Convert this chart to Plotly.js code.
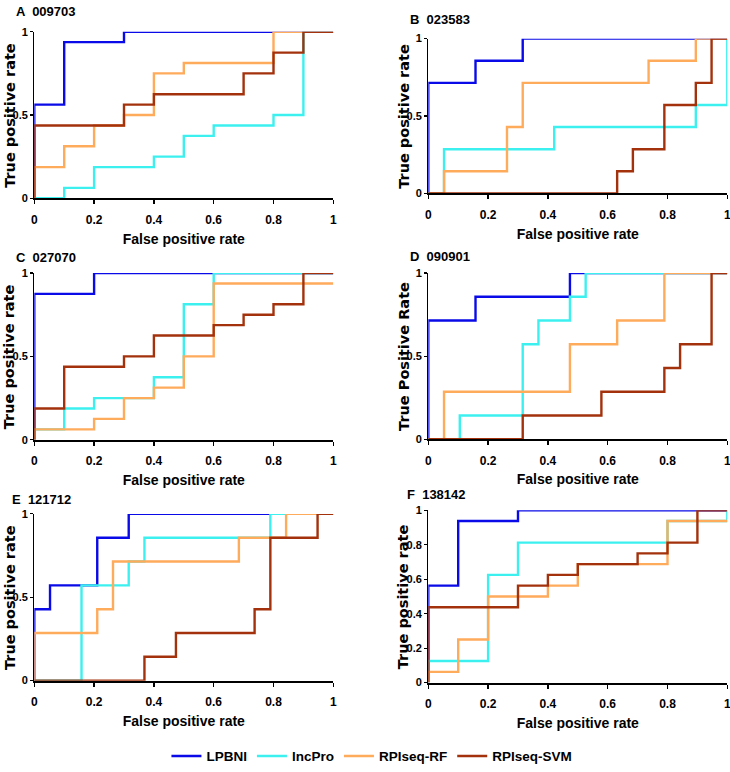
<!DOCTYPE html>
<html>
<head>
<meta charset="utf-8">
<script src="https://cdn.plot.ly/plotly-3.0.1.min.js"></script>
<style>html,body{margin:0;padding:0;background:#fff;}#chart{width:730px;height:772px;}</style>
</head>
<body>
<div id="chart"></div>
<script>
// ---------- DATA ----------
const seriesNames = ['LPBNI', 'lncPro', 'RPIseq-RF', 'RPIseq-SVM'];
const panelLetters = ['A', 'B', 'C', 'D', 'E', 'F'];
const panelIds = ['009703', '023583', '027070', '090901', '121712', '138142'];
const yTitles = ['True positive rate', 'True positive rate', 'True positive rate', 'True Positive Rate', 'True positive rate', 'True positive rate'];
const xTitle = 'False positive rate';
const xTickVals = [0, 0.2, 0.4, 0.6, 0.8, 1];
const xTickText = ['0', '0.2', '0.4', '0.6', '0.8', '1'];
const yTickValsHalf = [0, 0.5, 1];
const yTickTextHalf = ['0', '0.5', '1'];
const yTickValsFine = [0, 0.2, 0.4, 0.6, 0.8, 1];
const yTickTextFine = ['0', '0.2', '0.4', '0.6', '0.8', '1'];

// Panel A (009703)
const A_LPBNI_fpr = [0, 0, 0.1, 0.3, 1];
const A_LPBNI_tpr = [0, 0.5625, 0.9375, 1, 1];
const A_lncPro_fpr = [0, 0.1, 0.2, 0.4, 0.5, 0.6, 0.8, 0.9, 1];
const A_lncPro_tpr = [0, 0.0625, 0.1875, 0.25, 0.375, 0.4375, 0.5, 1, 1];
const A_RF_fpr = [0, 0, 0.1, 0.2, 0.3, 0.4, 0.5, 0.8, 1];
const A_RF_tpr = [0, 0.1875, 0.3125, 0.4375, 0.5, 0.75, 0.8125, 1, 1];
const A_SVM_fpr = [0, 0, 0.3, 0.4, 0.7, 0.8, 0.9, 1];
const A_SVM_tpr = [0, 0.4375, 0.5625, 0.625, 0.75, 0.875, 1, 1];

// Panel B (023583)
const B_LPBNI_fpr = [0, 0, 0.1579, 0.3158, 1];
const B_LPBNI_tpr = [0, 0.7143, 0.8571, 1, 1];
const B_lncPro_fpr = [0, 0.0526, 0.4211, 0.8947, 1];
const B_lncPro_tpr = [0, 0.2857, 0.4286, 0.5714, 1];
const B_RF_fpr = [0, 0.0526, 0.2632, 0.3158, 0.7368, 0.8947, 1];
const B_RF_tpr = [0, 0.1429, 0.4286, 0.7143, 0.8571, 1, 1];
const B_SVM_fpr = [0, 0.6316, 0.6842, 0.7895, 0.8947, 0.9474, 1];
const B_SVM_tpr = [0, 0.1429, 0.2857, 0.5714, 0.7143, 1, 1];

// Panel C (027070)
const C_LPBNI_fpr = [0, 0, 0.2, 1];
const C_LPBNI_tpr = [0, 0.875, 1, 1];
const C_lncPro_fpr = [0, 0, 0.1, 0.2, 0.4, 0.5, 0.6, 1];
const C_lncPro_tpr = [0, 0.0625, 0.1875, 0.25, 0.375, 0.8125, 1, 1];
const C_RF_fpr = [0, 0, 0.2, 0.3, 0.4, 0.5, 0.6, 1];
const C_RF_tpr = [0, 0.0625, 0.125, 0.25, 0.3125, 0.5, 0.9375, 0.9375];
const C_SVM_fpr = [0, 0, 0.1, 0.3, 0.4, 0.6, 0.7, 0.8, 0.9, 1];
const C_SVM_tpr = [0, 0.1875, 0.4375, 0.5, 0.625, 0.6875, 0.75, 0.8125, 1, 1];

// Panel D (090901)
const D_LPBNI_fpr = [0, 0, 0.1579, 0.4737, 1];
const D_LPBNI_tpr = [0, 0.7143, 0.8571, 1, 1];
const D_lncPro_fpr = [0, 0.1053, 0.3158, 0.3684, 0.4737, 0.5263, 1];
const D_lncPro_tpr = [0, 0.1429, 0.5714, 0.7143, 0.8571, 1, 1];
const D_RF_fpr = [0, 0.0526, 0.4737, 0.6316, 0.7895, 1];
const D_RF_tpr = [0, 0.2857, 0.5714, 0.7143, 1, 1];
const D_SVM_fpr = [0, 0.3158, 0.5789, 0.7895, 0.8421, 0.9474, 1];
const D_SVM_tpr = [0, 0.1429, 0.2857, 0.4286, 0.5714, 1, 1];

// Panel E (121712)
const E_LPBNI_fpr = [0, 0, 0.0526, 0.2105, 0.3158, 1];
const E_LPBNI_tpr = [0, 0.4286, 0.5714, 0.8571, 1, 1];
const E_lncPro_fpr = [0, 0.1579, 0.3158, 0.3684, 0.7895, 1];
const E_lncPro_tpr = [0, 0.5714, 0.7143, 0.8571, 1, 1];
const E_RF_fpr = [0, 0, 0.2105, 0.2632, 0.6842, 0.8421, 1];
const E_RF_tpr = [0, 0.2857, 0.4286, 0.7143, 0.8571, 1, 1];
const E_SVM_fpr = [0, 0.3684, 0.4737, 0.7368, 0.7895, 0.9474, 1];
const E_SVM_tpr = [0, 0.1429, 0.2857, 0.4286, 0.8571, 1, 1];

// Panel F (138142)
const F_LPBNI_fpr = [0, 0, 0.1, 0.3, 1];
const F_LPBNI_tpr = [0, 0.5625, 0.9375, 1, 1];
const F_lncPro_fpr = [0, 0, 0.2, 0.3, 0.8, 1];
const F_lncPro_tpr = [0, 0.125, 0.625, 0.8125, 0.9375, 1];
const F_RF_fpr = [0, 0, 0.1, 0.2, 0.4, 0.5, 0.8, 1];
const F_RF_tpr = [0, 0.0625, 0.25, 0.5, 0.5625, 0.6875, 0.9375, 0.9375];
const F_SVM_fpr = [0, 0, 0.3, 0.4, 0.5, 0.7, 0.8, 0.9, 1];
const F_SVM_tpr = [0, 0.4375, 0.5625, 0.625, 0.6875, 0.75, 0.8125, 1, 1];

// ---------- STYLE ----------
const colors = ['#0a0ae8', '#3cf0f0', '#ffab5c', '#a3320c'];
const narrow = '"Liberation Sans", Arial, sans-serif';
const wide = '"DejaVu Sans", Verdana, sans-serif';

const panelData = {
  A: [[A_LPBNI_fpr, A_LPBNI_tpr], [A_lncPro_fpr, A_lncPro_tpr], [A_RF_fpr, A_RF_tpr], [A_SVM_fpr, A_SVM_tpr]],
  B: [[B_LPBNI_fpr, B_LPBNI_tpr], [B_lncPro_fpr, B_lncPro_tpr], [B_RF_fpr, B_RF_tpr], [B_SVM_fpr, B_SVM_tpr]],
  C: [[C_LPBNI_fpr, C_LPBNI_tpr], [C_lncPro_fpr, C_lncPro_tpr], [C_RF_fpr, C_RF_tpr], [C_SVM_fpr, C_SVM_tpr]],
  D: [[D_LPBNI_fpr, D_LPBNI_tpr], [D_lncPro_fpr, D_lncPro_tpr], [D_RF_fpr, D_RF_tpr], [D_SVM_fpr, D_SVM_tpr]],
  E: [[E_LPBNI_fpr, E_LPBNI_tpr], [E_lncPro_fpr, E_lncPro_tpr], [E_RF_fpr, E_RF_tpr], [E_SVM_fpr, E_SVM_tpr]],
  F: [[F_LPBNI_fpr, F_LPBNI_tpr], [F_lncPro_fpr, F_lncPro_tpr], [F_RF_fpr, F_RF_tpr], [F_SVM_fpr, F_SVM_tpr]]
};

// pixel boxes of plot areas [left, right, top, bottom]
const W = 730, H = 772;
const boxes = [
  [34.3, 333.3, 32.3, 201.7],
  [428.3, 727.3, 39.3, 196.7],
  [34.3, 333.3, 277.7, 447.3],
  [428.3, 727.3, 277.7, 446.7],
  [34.3, 333.3, 522.7, 692.3],
  [428.3, 727.3, 519.0, 694.3]
];
const titlePos = [[14, 12], [408, 20], [14, 262], [408, 261], [10, 508], [405, 503]];

const traces = [];
const layout = {
  width: W, height: H,
  margin: {l: 0, r: 0, t: 0, b: 0},
  paper_bgcolor: '#fff', plot_bgcolor: '#fff',
  showlegend: true,
  legend: {
    orientation: 'h', x: 0.228, xanchor: 'left', y: 0.024, yanchor: 'top',
    font: {family: narrow, size: 13.5, color: '#000', weight: 'bold'},
    itemwidth: 30, tracegroupgap: 0, bgcolor: 'rgba(0,0,0,0)'
  },
  annotations: []
};

panelLetters.forEach((p, i) => {
  const n = i + 1;
  const xa = n === 1 ? 'x' : 'x' + n;
  const ya = n === 1 ? 'y' : 'y' + n;
  panelData[p].forEach((s, k) => {
    traces.push({
      type: 'scatter', mode: 'lines',
      x: s[0], y: s[1],
      xaxis: xa, yaxis: ya,
      name: seriesNames[k], legendgroup: seriesNames[k],
      showlegend: i === 0,
      line: {shape: 'hv', color: colors[k], width: 2.4},
      hoverinfo: 'skip'
    });
  });
  const b = boxes[i];
  const fine = p === 'F';
  layout['xaxis' + (n === 1 ? '' : n)] = {
    domain: [b[0] / W, b[1] / W], anchor: ya, range: [0, 1],
    showgrid: false, zeroline: false, showline: true, linecolor: '#000', linewidth: 2,
    ticks: 'outside', ticklen: 4, tickwidth: 1.5, tickcolor: '#000',
    ticklabelstandoff: 5, ticklabeloverflow: 'allow',
    tickvals: xTickVals, ticktext: xTickText,
    tickfont: {family: narrow, size: 12, color: '#000', weight: 'bold'},
    title: {text: xTitle, font: {family: narrow, size: 14, color: '#000', weight: 'bold'}, standoff: 8},
    fixedrange: true
  };
  layout['yaxis' + (n === 1 ? '' : n)] = {
    domain: [1 - b[3] / H, 1 - b[2] / H], anchor: xa, range: [0, 1],
    showgrid: false, zeroline: false, showline: true, linecolor: '#000', linewidth: 1.2,
    ticks: 'outside', ticklen: 3, tickwidth: 1.2, tickcolor: '#000',
    ticklabelstandoff: 0, ticklabeloverflow: 'allow',
    tickvals: fine ? yTickValsFine : yTickValsHalf,
    ticktext: fine ? yTickTextFine : yTickTextHalf,
    tickfont: {family: narrow, size: 11, color: '#000', weight: 'bold'},
    fixedrange: true
  };
  // y-axis title
  layout.annotations.push({
    xref: 'paper', yref: 'paper',
    x: (b[0] - 24.5) / W, y: 1 - (b[2] + b[3]) / 2 / H,
    xanchor: 'center', yanchor: 'middle', showarrow: false, textangle: -90,
    text: yTitles[i],
    font: {family: wide, size: 14.5, color: '#000', weight: 'bold'}
  });
  // panel label
  layout.annotations.push({
    xref: 'paper', yref: 'paper',
    x: titlePos[i][0] / W, y: 1 - titlePos[i][1] / H,
    xanchor: 'left', yanchor: 'middle', showarrow: false,
    text: p + '  ' + panelIds[i],
    font: {family: narrow, size: 13, color: '#000', weight: 'bold'}
  });
});

Plotly.newPlot('chart', traces, layout, {displayModeBar: false, staticPlot: true});
</script>
</body>
</html>
